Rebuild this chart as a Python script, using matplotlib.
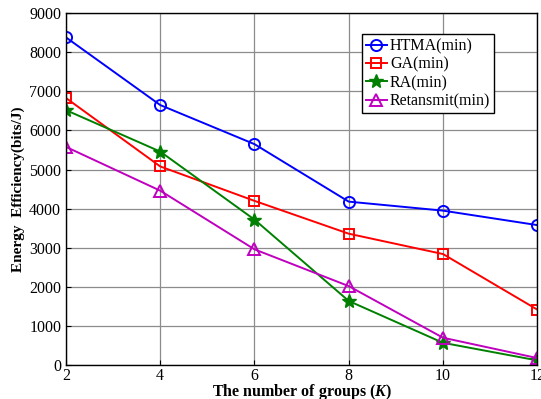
import matplotlib
matplotlib.use("Agg")
import matplotlib.pyplot as plt

plt.rcParams['font.family'] = ['Liberation Serif', 'DejaVu Serif']
plt.rcParams['mathtext.fontset'] = 'custom'
plt.rcParams['mathtext.it'] = 'Liberation Serif:italic:bold'

groups = [2, 4, 6, 8, 10, 12]
htma = [8380, 6650, 5650, 4180, 3950, 3580]
ga = [6830, 5080, 4200, 3360, 2840, 1420]
ra = [6520, 5460, 3720, 1640, 570, 120]
retansmit = [5580, 4460, 2960, 2020, 700, 180]

fig = plt.figure(figsize=(5.41, 3.99), dpi=100)
ax = fig.add_axes([0.122, 0.085, 0.871, 0.882])

ax.plot(groups, htma, color='b', marker='o', markersize=8, mfc='none', mew=1.4, lw=1.4, label='HTMA(min)')
ax.plot(groups, ga, color='r', marker='s', markersize=7, mfc='none', mew=1.4, lw=1.4, label='GA(min)')
ax.plot(groups, ra, color='#008000', marker='*', markersize=10, mfc='#008000', lw=1.4, label='RA(min)')
ax.plot(groups, retansmit, color='m', marker='^', markersize=8, mfc='none', mew=1.4, lw=1.4, label='Retansmit(min)')

ax.set_xlim(2, 12)
ax.set_ylim(0, 9000)
ax.set_xticks(groups)
ax.set_yticks(range(0, 9001, 1000))
ax.grid(True, color='#8c8c8c', lw=0.9)
ax.tick_params(direction='in', labelsize=11.5)
ax.tick_params(axis='x', pad=2)
for s in ax.spines.values():
    s.set_linewidth(1.0)

ax.set_xlabel('The number of groups ($K$)', fontweight='bold', fontsize=11.5, labelpad=-1)
ax.set_ylabel('Energy  Efficiency(bits/J)', fontweight='bold', fontsize=11, labelpad=3)

leg = ax.legend(loc='upper right', bbox_to_anchor=(0.909, 0.94), fontsize=11.5, fancybox=False,
                framealpha=1, edgecolor='k', handlelength=1.3, handletextpad=0.2,
                borderpad=0.25, labelspacing=0.15, borderaxespad=0)
leg.get_frame().set_linewidth(1.0)

fig.savefig('out.png', dpi=100)
